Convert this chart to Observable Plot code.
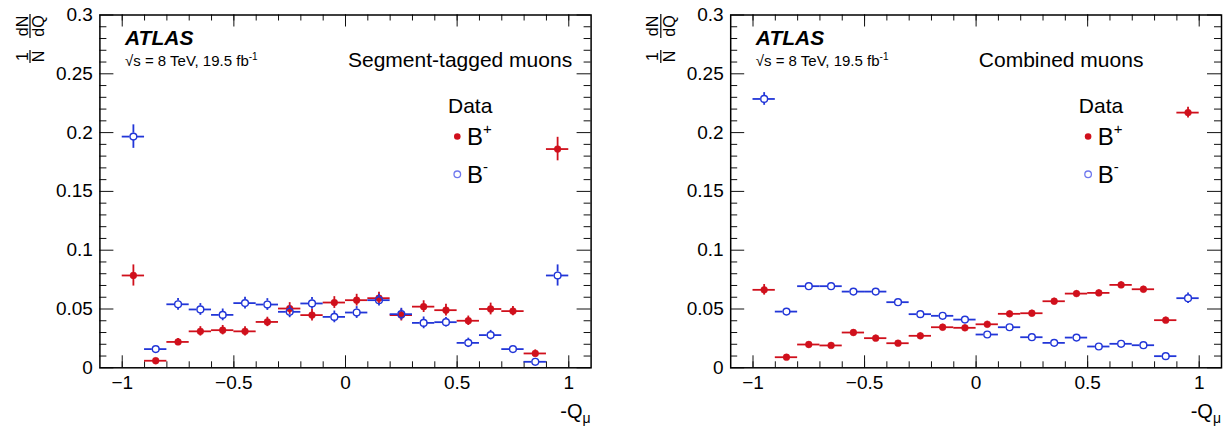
<!DOCTYPE html>
<html><head><meta charset="utf-8">
<script src="https://cdn.jsdelivr.net/npm/d3@7"></script>
<script src="https://cdn.jsdelivr.net/npm/@observablehq/plot@0.6"></script>
<style>
body{margin:0;background:#fff;}
#wrap{display:flex;width:1230px;height:431px;overflow:hidden;}
svg{overflow:visible;flex:none;}
svg text{font-family:"Liberation Sans",Arial,Helvetica,sans-serif;}
</style></head><body><div id="wrap"></div>
<script>
// bin centres of -Q_mu
const qCenters = [-0.95,-0.85,-0.75,-0.65,-0.55,-0.45,-0.35,-0.25,-0.15,-0.05,0.05,0.15,0.25,0.35,0.45,0.55,0.65,0.75,0.85,0.95];
const binHalfWidth = 0.05;

// Segment-tagged muons
const segBplus    = [0.0785,0.006,0.022,0.031,0.032,0.031,0.039,0.0504,0.0448,0.0555,0.0575,0.0592,0.0448,0.052,0.049,0.040,0.050,0.0482,0.0122,0.186];
const segBplusErr = [0.009,0.002,0.003,0.004,0.004,0.004,0.004,0.005,0.005,0.005,0.005,0.005,0.005,0.005,0.005,0.004,0.005,0.004,0.003,0.010];
const segBminus    = [0.1966,0.0159,0.054,0.0496,0.045,0.055,0.0538,0.0476,0.0547,0.0433,0.047,0.0575,0.0456,0.0382,0.0388,0.0212,0.0278,0.0159,0.0051,0.0785];
const segBminusErr = [0.010,0.003,0.005,0.005,0.005,0.005,0.005,0.005,0.005,0.005,0.005,0.005,0.005,0.005,0.004,0.004,0.004,0.003,0.002,0.009];

// Combined muons
const combBplus    = [0.0663,0.009,0.0198,0.019,0.030,0.0252,0.0209,0.0272,0.0345,0.034,0.037,0.0459,0.0464,0.0566,0.0631,0.0637,0.0705,0.0668,0.0405,0.217];
const combBplusErr = [0.0045,0.0015,0.002,0.002,0.0025,0.0025,0.002,0.0025,0.0025,0.0025,0.0025,0.0025,0.0025,0.0025,0.0025,0.0025,0.0025,0.0025,0.0025,0.0045];
const combBminus    = [0.2286,0.0478,0.0694,0.0694,0.0648,0.0648,0.0558,0.0456,0.0442,0.041,0.0283,0.0345,0.026,0.0212,0.0257,0.0181,0.0204,0.0192,0.0099,0.0592];
const combBminusErr = [0.0054,0.0025,0.0025,0.0025,0.0025,0.0025,0.0025,0.0025,0.0025,0.0025,0.002,0.0025,0.002,0.002,0.002,0.002,0.002,0.002,0.0015,0.0045];

// axes
const xMajorTicks  = [-1,-0.5,0,0.5,1];
const xMajorLabels = ["\u22121","\u22120.5","0","0.5","1"];
const xMinorTicks  = [-1,-0.9,-0.8,-0.7,-0.6,-0.5,-0.4,-0.3,-0.2,-0.1,0,0.1,0.2,0.3,0.4,0.5,0.6,0.7,0.8,0.9,1];
const yMajorTicks  = [0,0.05,0.1,0.15,0.2,0.25,0.3];
const yMajorLabels = ["0","0.05","0.1","0.15","0.2","0.25","0.3"];
const yMinorTicks  = [0.01,0.02,0.03,0.04,0.06,0.07,0.08,0.09,0.11,0.12,0.13,0.14,0.16,0.17,0.18,0.19,0.21,0.22,0.23,0.24,0.26,0.27,0.28,0.29];

const RED = "#d0101c", BLUE = "#2236d8";

function panel(o){
  const W = 615, H = 431, mt = 14.5, mb = 63.7;
  const ih = H - mt - mb, iw = W - o.ml - o.mr;
  const R = 3.4;
  const pxPerUnit = ih / 0.3;
  const rows = (vals, errs) => qCenters.map((q,i)=>({q, v: vals[i], e: errs[i]}));
  const plus = rows(o.plus, o.plusErr);
  const minus = rows(o.minus, o.minusErr);
  const minusV = minus.filter(d => d.e * pxPerUnit > R + 0.5);
  const plot = Plot.plot({
    width: W, height: H, marginLeft: o.ml, marginRight: o.mr, marginTop: mt, marginBottom: mb,
    x: {domain: [-1.1, 1.1]}, y: {domain: [0, 0.3]},
    style: {fontFamily: "'Liberation Sans', Arial, sans-serif", background: "white", color: "black"},
    marks: [
      // ticks inside frame
      Plot.tickX(xMinorTicks, {x: d=>d, insetTop: ih-6, stroke: "#111"}),
      Plot.tickX(xMinorTicks, {x: d=>d, insetBottom: ih-6, stroke: "#111"}),
      Plot.tickX(xMajorTicks, {x: d=>d, insetTop: ih-12, stroke: "#111"}),
      Plot.tickX(xMajorTicks, {x: d=>d, insetBottom: ih-12, stroke: "#111"}),
      Plot.tickY(yMinorTicks, {y: d=>d, insetRight: iw-7, stroke: "#111"}),
      Plot.tickY(yMinorTicks, {y: d=>d, insetLeft: iw-7, stroke: "#111"}),
      Plot.tickY(yMajorTicks, {y: d=>d, insetRight: iw-14, stroke: "#111"}),
      Plot.tickY(yMajorTicks, {y: d=>d, insetLeft: iw-14, stroke: "#111"}),
      Plot.axisX(xMajorTicks, {tickSize: 0, tickPadding: 8, fontSize: 19, label: null,
        tickFormat: d => xMajorLabels[xMajorTicks.indexOf(d)]}),
      Plot.axisY(yMajorTicks, {tickSize: 0, tickPadding: 7, fontSize: 19, label: null,
        tickFormat: d => yMajorLabels[yMajorTicks.indexOf(d)]}),
      Plot.frame({stroke: "black", strokeWidth: 1.5}),
      // B+ (filled)
      Plot.ruleY(plus, {y: "v", x1: d=>d.q-binHalfWidth, x2: d=>d.q+binHalfWidth, stroke: RED, strokeWidth: 1.8}),
      Plot.ruleX(plus, {x: "q", y1: d=>d.v+d.e, y2: d=>d.v-d.e, stroke: RED, strokeWidth: 1.8}),
      Plot.dot(plus, {x: "q", y: "v", r: R, fill: RED, stroke: RED, strokeWidth: 0.5}),
      // B- (open)
      Plot.ruleY(minus, {y: "v", x1: d=>d.q-binHalfWidth, x2: "q", insetRight: R, stroke: BLUE, strokeWidth: 1.8}),
      Plot.ruleY(minus, {y: "v", x1: "q", x2: d=>d.q+binHalfWidth, insetLeft: R, stroke: BLUE, strokeWidth: 1.8}),
      Plot.ruleX(minusV, {x: "q", y1: d=>d.v+d.e, y2: "v", insetBottom: R, stroke: BLUE, strokeWidth: 1.8}),
      Plot.ruleX(minusV, {x: "q", y1: "v", y2: d=>d.v-d.e, insetTop: R, stroke: BLUE, strokeWidth: 1.8}),
      Plot.dot(minus, {x: "q", y: "v", r: R, fill: "none", stroke: BLUE, strokeWidth: 1.4})
    ]
  });

  const svg = d3.select(plot);
  const fx = o.ml;
  const g = svg.append("g").attr("fill", "black").attr("text-anchor", "start");
  // ATLAS label
  g.append("text").attr("x", fx+25.6).attr("y", 45).attr("font-size", 21)
    .attr("font-weight", "bold").attr("font-style", "italic").text("ATLAS");
  const t2 = g.append("text").attr("x", fx+25.6).attr("y", 66).attr("font-size", 15);
  t2.append("tspan").text("\u221As = 8 TeV, 19.5 fb");
  t2.append("tspan").attr("dy", -6).attr("font-size", 10).text("-1");
  // panel title
  g.append("text").attr("x", fx+248.6).attr("y", 66.5).attr("font-size", 21).text(o.title);
  // legend
  g.append("text").attr("x", fx+348.6).attr("y", 113).attr("font-size", 21).text("Data");
  g.append("circle").attr("cx", fx+357.9).attr("cy", 136.5).attr("r", 3.3).attr("fill", RED);
  const l1 = g.append("text").attr("x", fx+367.6).attr("y", 145).attr("font-size", 24);
  l1.append("tspan").text("B");
  l1.append("tspan").attr("dy", -11).attr("font-size", 15).text("+");
  g.append("circle").attr("cx", fx+357.9).attr("cy", 174.3).attr("r", 3.3)
    .attr("fill", "none").attr("stroke", "#6f78ee").attr("stroke-width", 1.3);
  const l2 = g.append("text").attr("x", fx+367.6).attr("y", 183).attr("font-size", 24);
  l2.append("tspan").text("B");
  l2.append("tspan").attr("dy", -11).attr("font-size", 15).text("-");
  // x-axis title
  const xt = g.append("text").attr("x", fx+iw).attr("y", 418).attr("font-size", 20).attr("text-anchor", "end");
  xt.append("tspan").text("-Q");
  xt.append("tspan").attr("dy", 5).attr("font-size", 14).text("\u03BC");
  // y-axis title (rotated fraction 1/N dN/dQ)
  const yg = g.append("g").attr("transform", `translate(${fx-69.4},65) rotate(-90)`).attr("font-size", 16).attr("text-anchor", "middle");
  yg.append("text").attr("x", 8.5).attr("y", -2.5).text("1");
  yg.append("text").attr("x", 8.5).attr("y", 14.3).text("N");
  yg.append("line").attr("x1", 2).attr("x2", 15).attr("y1", 0).attr("y2", 0).attr("stroke", "black").attr("stroke-width", 1.2);
  yg.append("text").attr("x", 39).attr("y", -2.5).text("dN");
  yg.append("text").attr("x", 39).attr("y", 14.3).text("dQ");
  yg.append("line").attr("x1", 27).attr("x2", 51).attr("y1", 0).attr("y2", 0).attr("stroke", "black").attr("stroke-width", 1.2);
  return plot;
}

const wrap = document.getElementById("wrap");
wrap.append(panel({ml: 99.4, mr: 24.4, title: "Segment-tagged muons",
  plus: segBplus, plusErr: segBplusErr, minus: segBminus, minusErr: segBminusErr}));
wrap.append(panel({ml: 115.2, mr: 9, title: "Combined muons",
  plus: combBplus, plusErr: combBplusErr, minus: combBminus, minusErr: combBminusErr}));
</script></body></html>
